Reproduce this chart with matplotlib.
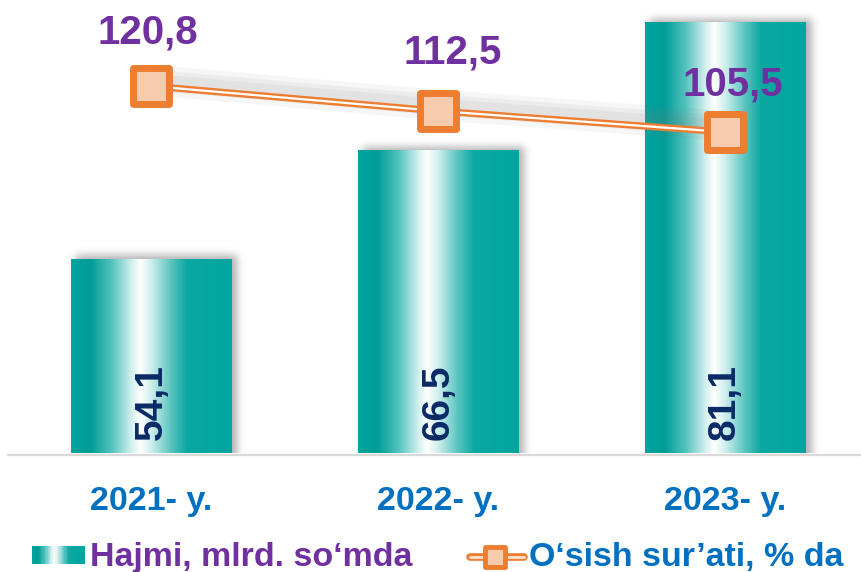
import numpy as np
import matplotlib
matplotlib.use("Agg")
import matplotlib.pyplot as plt
from matplotlib.colors import LinearSegmentedColormap
from matplotlib.patches import Rectangle
from matplotlib.lines import Line2D
from matplotlib.markers import MarkerStyle
import matplotlib.transforms as mtransforms

# ---------------- data ----------------
years = ["2021- y.", "2022- y.", "2023- y."]
volume = [54.1, 66.5, 81.1]
volume_labels = ["54,1", "66,5", "81,1"]
growth = [120.8, 112.5, 105.5]
growth_labels = ["120,8", "112,5", "105,5"]
legend_labels = ["Hajmi, mlrd. so‘mda", "O‘sish sur’ati, % da"]

# ---------------- style ----------------
plt.rcParams['font.family'] = ['Liberation Sans', 'DejaVu Sans']
TEAL = "#00A59F"
ORANGE = "#ED7D31"
LIGHT = "#F8CBAD"
PURPLE = "#7030A0"
BLUE = "#0070C0"
NAVY = "#0A2A66"

W, H, DPI = 862, 572, 100
fig = plt.figure(figsize=(W / DPI, H / DPI), dpi=DPI)

def fx(px):
    return px / W

def fy(py):
    return 1 - py / H

base_px = 453
YMIN, YMAX = 32, 83.6
ax = fig.add_axes([0, (H - base_px) / H, 1, base_px / H])
ax.set_xlim(-0.528, 2.478)
ax.set_ylim(YMIN, YMAX)
ax.axis('off')
ax2 = ax.twinx()
ax2.set_ylim(-1.5, 149.5)
ax2.axis('off')

stops = [(0.00, "#00A59F"), (0.12, "#009C96"), (0.25, "#52C2BD"),
         (0.37, "#CDEEEC"), (0.43, "#FFFFFF"), (0.50, "#CDEEEC"),
         (0.62, "#5BC5C0"), (0.72, "#0DA8A2"), (1.00, "#00A59F")]
cmap = LinearSegmentedColormap.from_list("bargrad", stops)
grad = np.linspace(0, 1, 256)[None, :]

def blur1d(a, sigma, axis):
    r = int(3 * sigma)
    k = np.exp(-0.5 * (np.arange(-r, r + 1) / sigma) ** 2)
    k /= k.sum()
    return np.apply_along_axis(lambda m: np.convolve(m, k, mode='same'), axis, a)

x = np.arange(len(years))
bar_w = 0.56
bars = ax.bar(x, volume, width=bar_w, color=TEAL, zorder=2)

inv = ax.transData.inverted()
for b, v in zip(bars, volume):
    # soft drop shadow
    (px0, py0) = ax.transData.transform((b.get_x(), YMIN))
    (px1, py1) = ax.transData.transform((b.get_x() + b.get_width(), v))
    pad = 20
    dx, dy = 5, 3
    wpx = int(round(px1 - px0)) + 2 * pad
    hpx = int(round(py1 - py0)) + 2 * pad
    arr = np.zeros((hpx, wpx))
    arr[pad - dy:hpx, pad + dx:wpx - pad + dx] = 1.0
    arr = blur1d(blur1d(arr, 4, 0), 4, 1)
    rgba = np.zeros((hpx, wpx, 4))
    rgba[..., :3] = 0.45
    rgba[..., 3] = 0.55 * arr
    (dx0, dy0) = inv.transform((px0 - pad, py0))
    (dx1, dy1) = inv.transform((px0 - pad + wpx, py0 - pad + hpx))
    ax.imshow(rgba[:hpx - pad], extent=[dx0, dx1, dy0, dy1], aspect='auto', zorder=1,
              interpolation='bilinear')
    im = ax.imshow(grad, extent=[b.get_x(), b.get_x() + b.get_width(), YMIN, v],
                   aspect='auto', cmap=cmap, zorder=3, interpolation='bilinear')
    im.set_clip_path(b)

ax.set_xlim(-0.528, 2.478)
ax.set_ylim(YMIN, YMAX)

# value labels inside bars
tr_bar = mtransforms.blended_transform_factory(ax.transData, ax.transAxes)
for xi, lbl in zip(x, volume_labels):
    ax.text(xi, (base_px - 440) / base_px, lbl, rotation=90, ha='center', va='bottom',
            fontsize=28, fontweight='bold', color=NAVY, transform=tr_bar, zorder=6)

# category labels
for xi, lbl in zip(x, years):
    ax.text(xi, -(510 - base_px) / base_px, lbl, ha='center', va='baseline',
            fontsize=24.5, fontweight='bold', color=BLUE, transform=tr_bar, clip_on=False)

# baseline
fig.add_artist(Line2D([fx(8), 1], [fy(454.5), fy(454.5)], color="#D9D9D9", lw=1.6,
                      transform=fig.transFigure))

# line shadow
tr_sh = mtransforms.offset_copy(ax2.transData, fig=fig, x=0, y=6, units='dots')
for lw, a in [(22, 0.07), (15, 0.08), (9, 0.09)]:
    ax2.plot(x, growth, color='gray', lw=lw, alpha=a, transform=tr_sh,
             solid_capstyle='butt', zorder=4)

# double line
ax2.plot(x, growth, color=ORANGE, lw=5, zorder=5, solid_capstyle='butt')
ax2.plot(x, growth, color='white', lw=1.6, zorder=5.1, solid_capstyle='butt')
ax2.plot(x, growth, ls='none', marker=MarkerStyle('s', joinstyle='round'), ms=26.5,
         mew=5, mec=ORANGE, mfc=LIGHT, zorder=6)

label_offsets_px = [(-4, 43), (15, 48), (8, 37)]
for xi, g, lbl, (ox, oy) in zip(x, growth, growth_labels, label_offsets_px):
    ax2.annotate(lbl, (xi, g), xytext=(ox, oy), textcoords='offset pixels',
                 ha='center', va='baseline', fontsize=29, fontweight='bold',
                 color=PURPLE, zorder=7)

# legend: gradient patch
n = 40
x0p, x1p, y0p, y1p = 32, 84, 546, 564
for i in range(n):
    c = cmap((i + 0.5) / n)
    fig.add_artist(Rectangle((fx(x0p + (x1p - x0p) * i / n), fy(y1p)),
                             fx((x1p - x0p) / n) * 1.6, (y1p - y0p) / H,
                             transform=fig.transFigure, facecolor=c, edgecolor='none',
                             antialiased=False))
fig.text(fx(90), fy(566), legend_labels[0], fontsize=24.5, fontweight='bold',
         color=PURPLE, va='baseline', ha='left')

# legend: line handle
fig.add_artist(Line2D([fx(470), fx(524)], [fy(557), fy(557)], color=ORANGE, lw=5.5,
                      solid_capstyle='round', transform=fig.transFigure))
fig.add_artist(Line2D([fx(470), fx(524)], [fy(557), fy(557)], color="#FBE3D3", lw=2,
                      solid_capstyle='round', transform=fig.transFigure))
fig.add_artist(Line2D([fx(495.5)], [fy(557)], ls='none',
                      marker=MarkerStyle('s', joinstyle='round'), ms=15, mew=3.5,
                      mec=ORANGE, mfc=LIGHT, transform=fig.transFigure))
fig.text(fx(529), fy(566), legend_labels[1], fontsize=24.5, fontweight='bold',
         color=BLUE, va='baseline', ha='left')

fig.savefig("out.png", dpi=DPI)
